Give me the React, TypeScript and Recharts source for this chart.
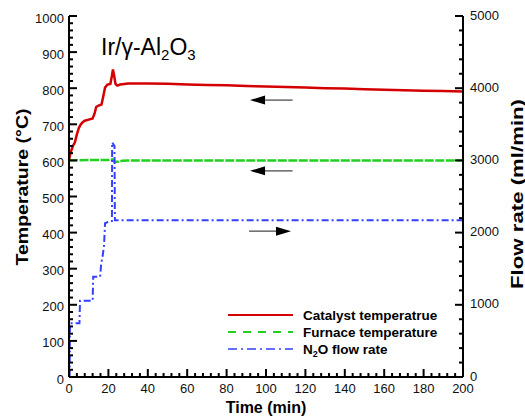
import { ComposedChart, Legend, Line, ReferenceLine, XAxis, YAxis } from 'recharts'

// axis tick labels (major) — minor ticks are split between them
const TIME_TICKS = [0, 20, 40, 60, 80, 100, 120, 140, 160, 180, 200]
const TEMP_TICKS = [0, 100, 200, 300, 400, 500, 600, 700, 800, 900, 1000]
const FLOW_TICKS = [0, 1000, 2000, 3000, 4000, 5000]

// catalyst temperature (°C)
const CATALYST_TIME = [
  0, 0.5, 1, 2, 3, 4, 5, 6, 7, 8, 10, 12, 13, 13.8, 15, 16.5, 17.3, 18.3, 19.5, 21,
  21.8, 22.3, 22.9, 23.6, 24.5, 26, 30, 40, 50, 60, 70, 80, 90, 100, 110, 120, 130,
  140, 150, 160, 170, 180, 190, 200,
]
const CATALYST_TEMP = [
  600, 615, 625, 640, 650, 672, 690, 700, 706, 710, 713, 716, 730, 748, 752, 755, 775,
  802, 810, 812, 835, 852, 835, 812, 807, 810, 813, 813, 812, 810, 809, 808, 806, 805,
  803, 802, 800, 799, 797, 796, 794, 793, 792, 791,
]

// furnace temperature (°C)
const FURNACE_TIME = [0, 10, 20, 22, 23, 25, 27, 30, 60, 100, 150, 200]
const FURNACE_TEMP = [600, 601, 601, 603, 597, 596, 599, 600, 600, 600, 600, 600]

// N2O flow rate (ml/min)
const FLOW_TIME = [
  0, 0.3, 0.5, 5.3, 5.6, 12, 12.3, 15.8, 16.3, 17.2, 17.8, 18.3, 20, 21.8, 21.9, 23.1,
  23.3, 200,
]
const FLOW_RATE = [
  0, 0, 745, 745, 1057, 1057, 1390, 1390, 1560, 1700, 1830, 2130, 2150, 2160, 3250, 3200,
  2170, 2170,
]

// annotation arrows (pointing at the axis each curve belongs to)
const ARROW_FROM = [113.5, 113.5, 91.4]
const ARROW_TO = [91.9, 91.9, 112.7]
const ARROW_TEMP = [767, 571, 404]

const SERIES = [
  { name: 'Catalyst temperatrue', color: '#d40000', dash: undefined, width: 2 },
  { name: 'Furnace temperature', color: '#22d022', dash: '8 7', width: 2 },
  { name: 'N2O flow rate', color: '#3340ff', dash: '9 4 2 4', width: 1.5 },
]

const FONT = '"Liberation Sans", Arial, Helvetica, sans-serif'
const MAJOR = 8
const MINOR = 4

const catalystData = CATALYST_TIME.map((t, i) => ({ t, v: CATALYST_TEMP[i] }))
const furnaceData = FURNACE_TIME.map((t, i) => ({ t, v: FURNACE_TEMP[i] }))
const flowData = FLOW_TIME.map((t, i) => ({ t, v: FLOW_RATE[i] }))

function withMinor(major: number[], parts: number) {
  const out: number[] = []
  for (let i = 0; i < major.length - 1; i++) {
    const step = (major[i + 1] - major[i]) / parts
    for (let k = 0; k < parts; k++) out.push(major[i] + step * k)
  }
  out.push(major[major.length - 1])
  return out
}

// draws the inward tick mark (major / minor) plus the label for majors
function makeTick(side: 'left' | 'right' | 'bottom', major: number[]) {
  return (props: any) => {
    const x = Number(props.x)
    const y = Number(props.y)
    const value = props.payload.value
    const isMajor = major.includes(value)
    const len = isMajor ? MAJOR : MINOR
    const common = { fontSize: 13, fill: '#111', fontFamily: FONT }
    if (side === 'left') {
      return (
        <g>
          <line x1={x} y1={y} x2={x + len} y2={y} stroke="#000" strokeWidth={2} />
          {isMajor && (
            <text x={x - 5} y={y + 2} dy="0.35em" textAnchor="end" {...common}>
              {value}
            </text>
          )}
        </g>
      )
    }
    if (side === 'right') {
      return (
        <g>
          <line x1={x} y1={y} x2={x - len} y2={y} stroke="#000" strokeWidth={2} />
          {isMajor && (
            <text x={x + 7} y={y - 1} dy="0.35em" textAnchor="start" {...common}>
              {value}
            </text>
          )}
        </g>
      )
    }
    return (
      <g>
        <line x1={x} y1={y} x2={x} y2={y - len} stroke="#000" strokeWidth={2} />
        {isMajor && (
          <text x={x} y={y + 11} dy="0.35em" textAnchor="middle" {...common}>
            {value}
          </text>
        )}
      </g>
    )
  }
}

function VerticalTitle({ text, cx, cy, length }: { text: string; cx: number; cy: number; length: number }) {
  return (
    <text
      transform={`translate(${cx},${cy}) rotate(-90)`}
      textAnchor="middle"
      dominantBaseline="central"
      fontSize={16}
      fontWeight="bold"
      fontFamily={FONT}
      fill="#000"
      textLength={length}
      lengthAdjust="spacingAndGlyphs"
    >
      {text}
    </text>
  )
}

function HorizontalTitle({ text, cx, cy }: { text: string; cx: number; cy: number }) {
  return (
    <text
      transform={`translate(${cx},${cy})`}
      textAnchor="middle"
      dominantBaseline="central"
      fontSize={16}
      fontWeight="bold"
      fontFamily={FONT}
      fill="#000"
    >
      {text}
    </text>
  )
}

function ArrowShape(props: any) {
  const { x1, y1, x2, y2 } = props
  const dir = x2 > x1 ? 1 : -1
  const head = 15
  const hw = 4.5
  return (
    <g>
      <line x1={x1} y1={y1} x2={x2 - dir * head} y2={y2} stroke="#666" strokeWidth={1.5} />
      <polygon
        points={`${x2},${y2} ${x2 - dir * head},${y2 - hw} ${x2 - dir * head},${y2 + hw}`}
        fill="#000"
      />
    </g>
  )
}

function LegendBox() {
  return (
    <svg width={240} height={54} style={{ display: 'block' }}>
      {SERIES.map((s, i) => {
        const cy = 9 + i * 17
        return (
          <g key={s.name}>
            <line
              x1={4}
              y1={cy}
              x2={69}
              y2={cy}
              stroke={s.color}
              strokeWidth={s.width}
              strokeDasharray={s.dash}
            />
            <text
              x={79}
              y={cy}
              dy="0.35em"
              fontSize={13.5}
              fontWeight="bold"
              fontFamily={FONT}
              fill="#000"
            >
              {s.name === 'N2O flow rate' ? (
                <>
                  N<tspan fontSize={9} dy={3}>2</tspan>
                  <tspan dy={-3}>O flow rate</tspan>
                </>
              ) : (
                s.name
              )}
            </text>
          </g>
        )
      })}
    </svg>
  )
}

const axisLineStyle = { stroke: '#000', strokeWidth: 2 }

export default function App() {
  return (
    <div
      style={{
        position: 'absolute',
        left: 0,
        top: 0,
        width: 525,
        height: 418,
        background: '#fff',
        fontFamily: FONT,
      }}
    >
      <ComposedChart width={525} height={418} margin={{ top: 16, right: 0, bottom: 0, left: 0 }}>
        <XAxis
          xAxisId="top"
          orientation="top"
          type="number"
          domain={[0, 200]}
          height={0}
          tick={false}
          tickLine={false}
          axisLine={axisLineStyle}
        />
        <XAxis
          dataKey="t"
          type="number"
          domain={[0, 200]}
          ticks={withMinor(TIME_TICKS, 5)}
          interval={0}
          height={41}
          tickSize={0}
          tickMargin={0}
          tickLine={false}
          tick={makeTick('bottom', TIME_TICKS)}
          axisLine={axisLineStyle}
          label={<HorizontalTitle text="Time (min)" cx={266} cy={407} />}
        />
        <YAxis
          yAxisId="temp"
          type="number"
          domain={[0, 1000]}
          ticks={withMinor(TEMP_TICKS, 5)}
          interval={0}
          width={69}
          tickSize={0}
          tickMargin={0}
          tickLine={false}
          tick={makeTick('left', TEMP_TICKS)}
          axisLine={axisLineStyle}
          label={<VerticalTitle text="Temperature (°C)" cx={22} cy={187} length={157} />}
        />
        <YAxis
          yAxisId="flow"
          orientation="right"
          type="number"
          domain={[0, 5000]}
          ticks={withMinor(FLOW_TICKS, 5)}
          interval={0}
          width={62}
          tickSize={0}
          tickMargin={0}
          tickLine={false}
          tick={makeTick('right', FLOW_TICKS)}
          axisLine={axisLineStyle}
          label={<VerticalTitle text="Flow rate (ml/min)" cx={517} cy={194} length={190} />}
        />
        <Line
          yAxisId="temp"
          data={furnaceData}
          dataKey="v"
          type="linear"
          stroke={SERIES[1].color}
          strokeWidth={2.5}
          strokeDasharray="9 1.5"
          dot={false}
          isAnimationActive={false}
        />
        <Line
          yAxisId="flow"
          data={flowData}
          dataKey="v"
          type="linear"
          stroke={SERIES[2].color}
          strokeWidth={2}
          strokeDasharray="7 3 2 3"
          dot={false}
          isAnimationActive={false}
        />
        <Line
          yAxisId="temp"
          data={catalystData}
          dataKey="v"
          type="linear"
          stroke={SERIES[0].color}
          strokeWidth={2.5}
          dot={false}
          isAnimationActive={false}
        />
        {ARROW_TEMP.map((temp, i) => (
          <ReferenceLine
            key={i}
            yAxisId="temp"
            segment={[
              { x: ARROW_FROM[i], y: temp },
              { x: ARROW_TO[i], y: temp },
            ]}
            shape={ArrowShape}
            ifOverflow="visible"
          />
        ))}
        <Legend
          layout="vertical"
          align="center"
          verticalAlign="middle"
          wrapperStyle={{ left: 224, top: 306, width: 240, height: 54 }}
          content={() => <LegendBox />}
        />
      </ComposedChart>
      <div
        style={{
          position: 'absolute',
          left: 101,
          top: 36,
          fontSize: 23,
          lineHeight: '23px',
          whiteSpace: 'nowrap',
          color: '#000',
        }}
      >
        Ir/γ-Al
        <span style={{ fontSize: 15, position: 'relative', top: 5 }}>2</span>O
        <span style={{ fontSize: 15, position: 'relative', top: 5 }}>3</span>
      </div>
    </div>
  )
}
